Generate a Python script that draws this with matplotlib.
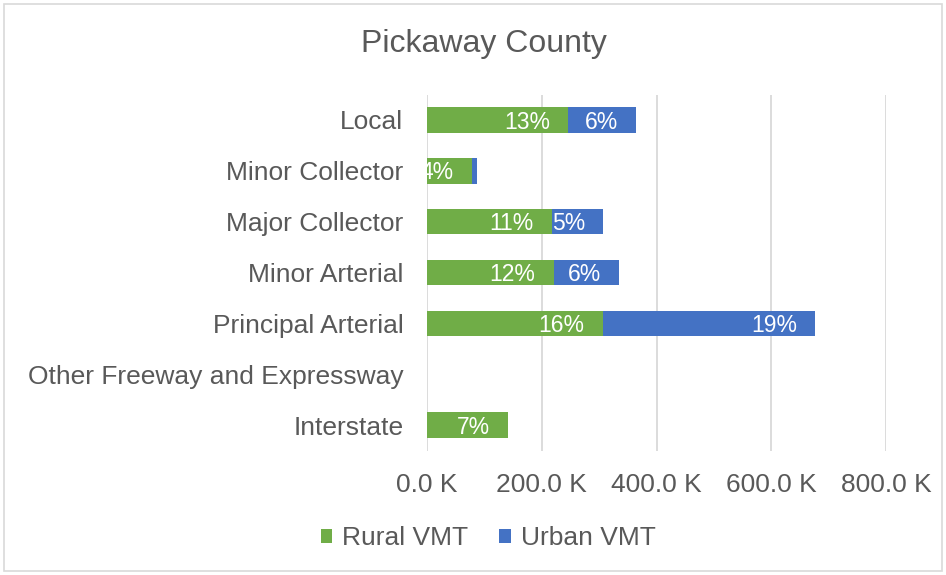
import matplotlib
matplotlib.use("Agg")
import matplotlib.pyplot as plt
from matplotlib.patches import Rectangle

plt.rcParams['font.family'] = ['Liberation Sans', 'DejaVu Sans']

categories = ["Interstate", "Other Freeway and Expressway", "Principal Arterial",
              "Minor Arterial", "Major Collector", "Minor Collector", "Local"]
rural_vmt = [142000, 0, 306000, 220500, 217600, 78000, 246600]
urban_vmt = [0, 0, 371000, 114000, 89600, 9000, 118000]
rural_labels = ["7%", "", "16%", "12%", "11%", "4%", "13%"]
urban_labels = ["", "", "19%", "6%", "5%", "1%", "6%"]
xticks = [0, 200000, 400000, 600000, 800000]
xtick_labels = ["0.0 K", "200.0 K", "400.0 K", "600.0 K", "800.0 K"]

green = "#70AD47"
blue = "#4472C4"
txt = "#595959"

W, H = 946, 575
fig = plt.figure(figsize=(W / 100, H / 100), dpi=100)
ax = fig.add_axes([427 / W, 1 - 450.5 / H, (886 - 427) / W, (450.5 - 94.5) / H])

y = list(range(len(categories)))
ax.barh(y, rural_vmt, height=0.5, color=green, label="Rural VMT", zorder=3)
ax.barh(y, urban_vmt, left=rural_vmt, height=0.5, color=blue, label="Urban VMT", zorder=3)

for i in y:
    if rural_labels[i] and rural_vmt[i] > 0:
        t = ax.annotate(rural_labels[i], xy=(rural_vmt[i], i), xytext=(-13, -1.5),
                        textcoords="offset points", ha="right", va="center",
                        color="white", fontsize=16.5, zorder=4)
        t.set_clip_on(True)
    end = rural_vmt[i] + urban_vmt[i]
    if urban_labels[i] and urban_vmt[i] > 30000:
        t = ax.annotate(urban_labels[i], xy=(end, i), xytext=(-13, -1.5),
                        textcoords="offset points", ha="right", va="center",
                        color="white", fontsize=16.5, zorder=4)
        t.set_clip_on(True)

ax.set_xlim(0, 800000)
ax.set_ylim(-0.5, len(categories) - 0.5)
ax.set_xticks(xticks)
ax.set_xticklabels(xtick_labels, fontsize=19, color=txt)
ax.set_yticks(y)
ax.set_yticklabels(categories, fontsize=19, color=txt)
ax.tick_params(axis="both", length=0)
ax.tick_params(axis="x", pad=16)
ax.tick_params(axis="y", pad=17)
ax.grid(axis="x", color="#D9D9D9", linewidth=1.3, zorder=0)
for s in ax.spines.values():
    s.set_visible(False)

fig.text(484 / W, 1 - 44 / H, "Pickaway County", ha="center", va="center",
         fontsize=23, color=txt)

handles, labels = ax.get_legend_handles_labels()
fig.legend(handles, labels, loc="center", bbox_to_anchor=(488 / W, 1 - 538 / H),
           ncol=2, frameon=False, fontsize=19, labelcolor=txt,
           handlelength=0.45, handleheight=0.45, handletextpad=0.35, columnspacing=1.2)

fig.patches.append(Rectangle((4 / W, 4 / H), 1 - 8 / W, 1 - 8 / H, transform=fig.transFigure,
                             fill=False, edgecolor="#D9D9D9", linewidth=1.2))

fig.savefig("out.png", dpi=100)
